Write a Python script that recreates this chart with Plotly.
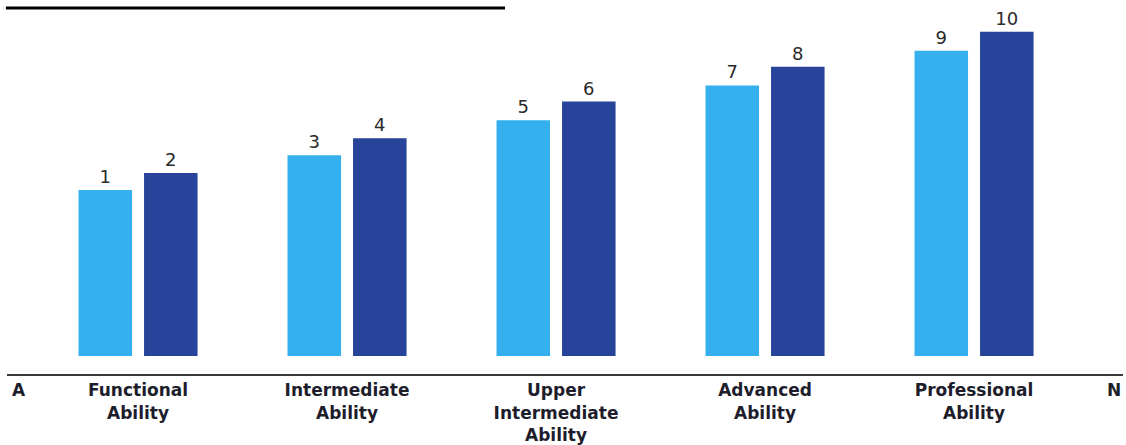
import plotly.graph_objects as go

categories = ["Functional<br>Ability", "Intermediate<br>Ability",
              "Upper<br>Intermediate<br>Ability", "Advanced<br>Ability",
              "Professional<br>Ability"]
light_values = [9.43, 11.41, 13.39, 15.37, 17.34]
dark_values = [10.40, 12.37, 14.46, 16.44, 18.42]
light_labels = ["1", "3", "5", "7", "9"]
dark_labels = ["2", "4", "6", "8", "10"]
end_labels = ["A", "N"]

LIGHT = "#35B0EE"
DARK = "#27449A"
TXT = "#1d1d2b"
FONT = "DejaVu Sans"

fig = go.Figure()
fig.add_trace(go.Bar(x=categories, y=light_values, text=light_labels,
                     marker=dict(color=LIGHT, line=dict(width=0)),
                     textposition="outside", cliponaxis=False,
                     textfont=dict(family=FONT, size=18, color="#2a2a2a")))
fig.add_trace(go.Bar(x=categories, y=dark_values, text=dark_labels,
                     marker=dict(color=DARK, line=dict(width=0)),
                     textposition="outside", cliponaxis=False,
                     textfont=dict(family=FONT, size=18, color="#2a2a2a")))

lo = -0.627
fig.update_layout(
    width=1126, height=445,
    margin=dict(l=7, r=3, t=0, b=69),
    paper_bgcolor="white", plot_bgcolor="white",
    showlegend=False,
    barmode="group", bargap=0.373, bargroupgap=0.183,
    xaxis=dict(range=[lo, lo + 1116 / 209], showgrid=False, zeroline=False,
               showline=True, linecolor="#3a3a3a", linewidth=2,
               ticks="", tickfont=dict(family=FONT, size=17, color=TXT, weight="bold"),
               fixedrange=True),
    yaxis=dict(range=[-18 / 17.7, 358 / 17.7], visible=False, fixedrange=True),
    shapes=[dict(type="line", xref="paper", yref="paper",
                 x0=-0.001, x1=(505 - 7) / 1116, y0=(376 - 8) / 376, y1=(376 - 8) / 376,
                 line=dict(color="black", width=3))],
)
for xp, lab, anc in [(0.003, end_labels[0], "left"), (1.0, end_labels[1], "right")]:
    fig.add_annotation(x=xp, y=-(392 - 376) / 376, xref="paper", yref="paper",
                       text=lab, showarrow=False, xanchor=anc, yanchor="middle",
                       font=dict(family=FONT, size=17, color=TXT, weight="bold"))

fig.write_html("out.html", config={"displayModeBar": False},
               post_script="document.body.style.margin='0';document.body.style.overflow='hidden';")
